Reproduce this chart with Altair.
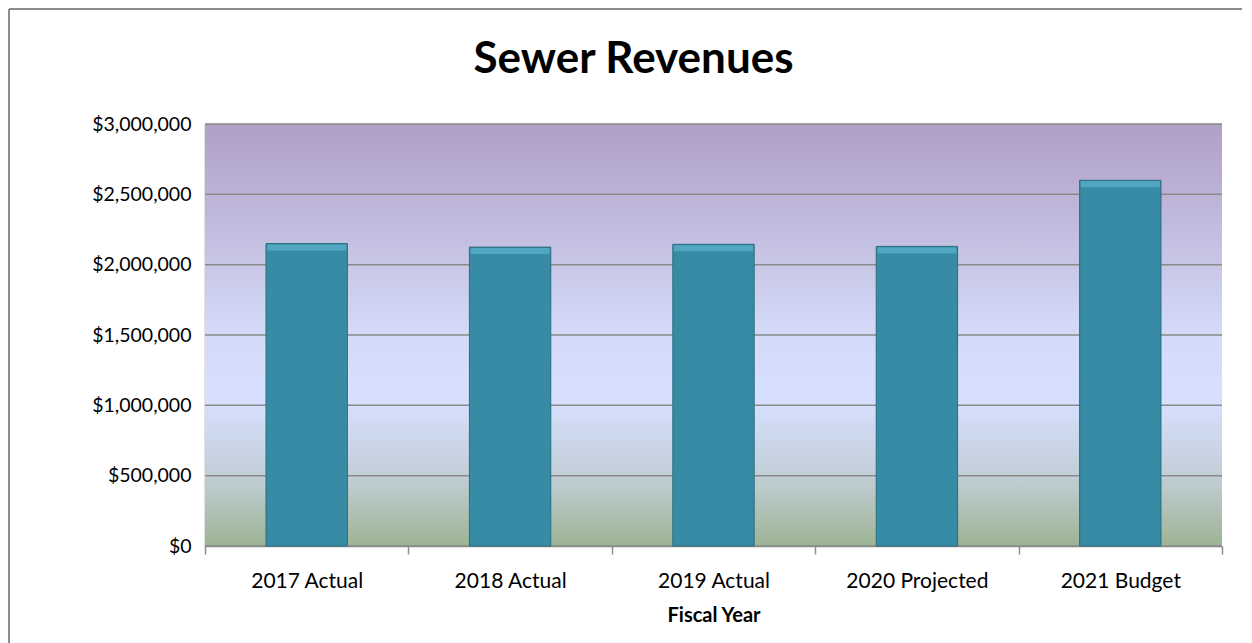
import altair as alt
import pandas as pd

categories = ["2017 Actual", "2018 Actual", "2019 Actual", "2020 Projected", "2021 Budget"]
revenues = [2150000, 2125000, 2145000, 2130000, 2600000]
y_ticks = [0, 500000, 1000000, 1500000, 2000000, 2500000, 3000000]

df = pd.DataFrame({"year": categories, "revenue": revenues})
grid_df = pd.DataFrame({"v": y_ticks})

FONT = "Lato"
W, H = 1017, 422

x_enc = alt.X("year:N", sort=categories, title="Fiscal Year",
              scale=alt.Scale(paddingInner=0, paddingOuter=0),
              axis=alt.Axis(labelAngle=0, tickBand="extent", tickSize=8,
                            tickColor="#8c8c8c", domainColor="#8c8c8c",
                            domainWidth=1.5, tickWidth=1.5,
                            labelFontSize=21, labelFont=FONT, labelColor="#000",
                            labelPadding=16, titleFontSize=20, titleFont=FONT,
                            titleFontWeight="bold", titlePadding=14, titleColor="#000"))
y_enc = alt.Y("revenue:Q", title=None,
              scale=alt.Scale(domain=[0, 3000000]),
              axis=alt.Axis(values=y_ticks,
                            format="$,.0f", ticks=False, grid=False,
                            domainColor="#8c8c8c", domainWidth=1.5,
                            labelFontSize=19.5, labelFont=FONT, labelColor="#000",
                            labelPadding=14))

bg = alt.Chart(df).mark_rect(
    fill=alt.Gradient(gradient="linear", x1=0, x2=0, y1=0, y2=1, stops=[
        alt.GradientStop(offset=0, color="#b09fc6"),
        alt.GradientStop(offset=0.33, color="#c8c6e6"),
        alt.GradientStop(offset=0.5, color="#d4dbf9"),
        alt.GradientStop(offset=0.66, color="#d6e0fe"),
        alt.GradientStop(offset=0.83, color="#c2cfd8"),
        alt.GradientStop(offset=1, color="#9db495"),
    ])
).encode(x=alt.value(0), x2=alt.value(W), y=alt.value(0), y2=alt.value(H))

frame = alt.Chart(df).mark_rule(stroke="#8c8c8c", strokeWidth=2).encode(
    x=alt.value(-196), y=alt.value(-115), y2=alt.value(H + 200))
frame_top = alt.Chart(df).mark_rule(stroke="#8c8c8c", strokeWidth=2).encode(
    x=alt.value(-196), x2=alt.value(1400), y=alt.value(-115))

grid = alt.Chart(grid_df).mark_rule(color="#8a8a8a", strokeWidth=1.5).encode(
    y=alt.Y("v:Q", scale=alt.Scale(domain=[0, 3000000])),
    x=alt.value(0), x2=alt.value(W))

bars = alt.Chart(df).mark_bar(color="#378ba4", stroke="#2a6c80", strokeWidth=1,
                              width=alt.RelativeBandSize(0.4)).encode(
    x=x_enc, y=y_enc)

hilite = alt.Chart(df).mark_tick(color="#5cb4ca", thickness=6, size=79, yOffset=4).encode(
    x=alt.X("year:N", sort=categories), y="revenue:Q")

chart = alt.layer(frame, frame_top, bg, grid, bars, hilite).properties(
    width=W, height=H,
    autosize=alt.AutoSizeParams(type="none"),
    padding={"left": 197, "top": 116, "right": 20, "bottom": 100},
    title=alt.TitleParams("Sewer Revenues", fontSize=44, font=FONT, fontWeight="bold",
                          color="#000", anchor="middle", frame="group", dx=-80,
                          baseline="alphabetic", offset=0, dy=109)
).configure_view(stroke=None)

chart.save("out.html", embed_options={"renderer": "svg", "actions": False})
